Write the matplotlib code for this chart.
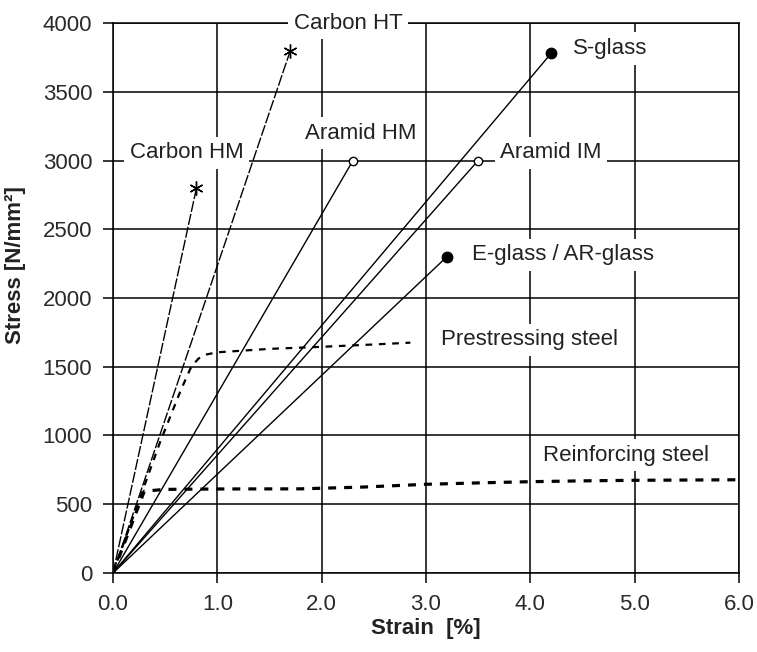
import matplotlib
matplotlib.use("Agg")
import matplotlib.pyplot as plt

plt.rcParams["font.family"] = ["Liberation Sans", "DejaVu Sans"]

# Fibre failure points (strain in %, stress in N/mm2)
fibres = ["Carbon HM", "Carbon HT", "Aramid HM", "Aramid IM", "S-glass", "E-glass / AR-glass"]
fibre_strain = [0.8, 1.7, 2.3, 3.5, 4.2, 3.2]
fibre_stress = [2800, 3800, 3000, 3000, 3780, 2300]

# Steel stress-strain curves
pre_strain = [0, 0.45, 0.65, 0.75, 0.82, 0.9, 1.0, 1.5, 2.0, 2.5, 2.85]
pre_stress = [0, 950, 1330, 1500, 1560, 1590, 1605, 1630, 1645, 1662, 1675]
rein_strain = [0, 0.3, 0.5, 1.0, 1.8, 2.4, 3.0, 3.6, 4.0, 4.5, 5.0, 6.0]
rein_stress = [0, 595, 608, 611, 612, 625, 645, 657, 664, 670, 674, 678]

x_ticks = [0, 1, 2, 3, 4, 5, 6]
y_ticks = [0, 500, 1000, 1500, 2000, 2500, 3000, 3500, 4000]

fig = plt.figure(figsize=(7.57, 6.52), dpi=100)
ax = fig.add_axes([0.1493, 0.1212, 0.8269, 0.8435])

# line style and end marker per fibre
styles = {
    "Carbon HM": dict(ls=(0, (8, 1.5)), marker=(6, 2, 0), ms=10, mfc="k"),
    "Carbon HT": dict(ls=(0, (8, 1.5)), marker=(6, 2, 0), ms=10, mfc="k"),
    "Aramid HM": dict(ls="-", marker="o", ms=6, mfc="white"),
    "Aramid IM": dict(ls="-", marker="o", ms=6, mfc="white"),
    "S-glass": dict(ls="-", marker="o", ms=7.5, mfc="k"),
    "E-glass / AR-glass": dict(ls="-", marker="o", ms=7.5, mfc="k"),
}

for name, sx, sy in zip(fibres, fibre_strain, fibre_stress):
    st = styles[name]
    ax.plot([0, sx], [0, sy], color="k", lw=1.0, ls=st["ls"], zorder=4)
    ax.plot(sx, sy, marker=st["marker"], ms=st["ms"], mfc=st["mfc"],
            mec="k", mew=1.0, color="k", zorder=5)

ax.plot(pre_strain, pre_stress, color="k", lw=1.6, ls=(0, (3, 3)), zorder=4)
ax.plot(rein_strain, rein_stress, color="k", lw=2.3, ls=(0, (2.5, 2.5)), zorder=4)

# curve labels on white boxes that break the grid
labels = [
    ("Carbon HT", 1.73, 4000),
    ("Carbon HM", 0.16, 3055),
    ("Aramid HM", 1.84, 3200),
    ("S-glass", 4.41, 3815),
    ("Aramid IM", 3.71, 3055),
    ("E-glass / AR-glass", 3.44, 2313),
    ("Prestressing steel", 3.14, 1695),
    ("Reinforcing steel", 4.12, 858),
]
for txt, lx, ly in labels:
    ax.text(lx, ly, txt, fontsize=16, color="#222222", ha="left", va="center",
            zorder=6, bbox=dict(facecolor="white", edgecolor="none", pad=4))

ax.set_xlim(0, 6)
ax.set_ylim(0, 4000)
ax.set_xticks(x_ticks)
ax.set_xticklabels([f"{v:.1f}" for v in x_ticks])
ax.set_yticks(y_ticks)
ax.tick_params(labelsize=16, labelcolor="#2a2a2a", length=7, width=1.1,
               direction="out", pad=8)
ax.grid(True, color="k", lw=1.1)
ax.set_axisbelow(True)
for sp in ax.spines.values():
    sp.set_linewidth(1.1)

ax.set_xlabel("Strain  [%]", fontsize=16, fontweight="bold", color="#222222", labelpad=2)
ax.set_ylabel("Stress [N/mm²]", fontsize=16, fontweight="bold", color="#222222")
ax.yaxis.set_label_coords(-0.139, 0.56)

fig.savefig("out.png", dpi=100)
